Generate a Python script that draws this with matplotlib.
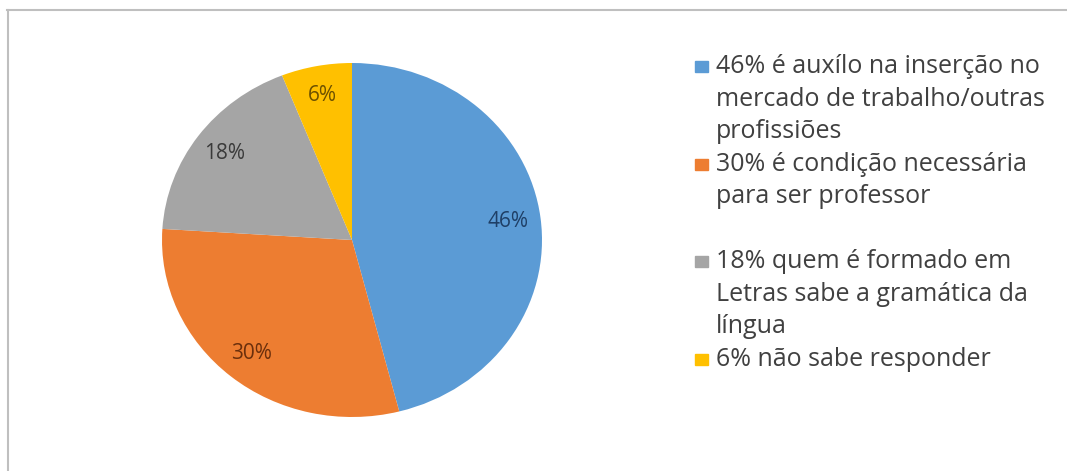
import matplotlib.pyplot as plt
from matplotlib.patches import Rectangle
from matplotlib.lines import Line2D

plt.rcParams['font.family'] = ['Open Sans', 'DejaVu Sans']

# survey answers, clockwise from 12 o'clock
shares = [46, 30, 18, 6]
legend_labels = [
    "46% é auxílo na inserção no\nmercado de trabalho/outras\nprofissiões",
    "30% é condição necessária\npara ser professor\n",
    "18% quem é formado em\nLetras sabe a gramática da\nlíngua",
    "6% não sabe responder",
]
slice_colors = ["#5B9BD5", "#ED7D31", "#A5A5A5", "#FFC000"]
pct_colors = ["#1F3F66", "#6B2F0C", "#3A3A3A", "#6B5000"]

W, H = 1067, 471
fig = plt.figure(figsize=(W / 100, H / 100), dpi=100)

# pie centred at (352, 240) px, slightly wider than tall
cx, cy, rx, ry = 352, 240, 190, 177
ax = fig.add_axes([(cx - rx) / W, (H - cy - ry) / H, 2 * rx / W, 2 * ry / H])
wedges, texts, autotexts = ax.pie(
    shares,
    colors=slice_colors,
    startangle=90,
    counterclock=False,
    autopct=lambda p: f"{p:.0f}%",
    pctdistance=0.83,
    textprops={"fontsize": 15},
)
for t, c in zip(autotexts, pct_colors):
    t.set_color(c)
ax.set_aspect("auto")
ax.set_xlim(-1, 1)
ax.set_ylim(-1, 1)
ax.axis("off")

# legend drawn by hand so wrapped entries keep the marker on the first line
line_h = 32.5
y = 66.7
for label, color in zip(legend_labels, slice_colors):
    fig.patches.append(Rectangle((695 / W, (H - y - 5.5) / H), 13 / W, 11 / H,
                                 transform=fig.transFigure, color=color))
    for line in label.split("\n"):
        fig.text(716 / W, (H - y) / H, line, fontsize=18, color="#404040",
                 va="center", ha="left")
        y += line_h

# frame edges along the top and left
fig.add_artist(Line2D([7 / W, 1], [1 - 9.5 / H] * 2, color="#BFBFBF", lw=1.5,
                      transform=fig.transFigure))
fig.add_artist(Line2D([7.5 / W] * 2, [0, 1 - 9.5 / H], color="#BFBFBF", lw=1.5,
                      transform=fig.transFigure))

fig.savefig("out.png", dpi=100)
